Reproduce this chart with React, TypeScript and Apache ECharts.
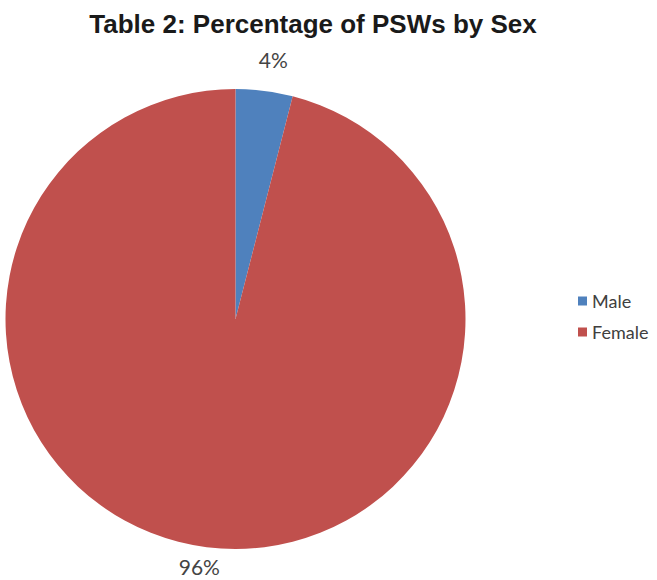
import React, { useEffect, useRef } from "react";
import * as echarts from "echarts";

const categories = ["Male", "Female"];
const values = [4, 96];
const colors = ["#4F81BD", "#C0504D"];
const labelOffsets = [32, 19];

export default function App() {
  const ref = useRef<HTMLDivElement>(null);
  useEffect(() => {
    if (!ref.current) return;
    const chart = echarts.init(ref.current, null, { renderer: "svg" });
    chart.setOption({
      animation: false,
      backgroundColor: "#ffffff",
      title: {
        text: "Table 2: Percentage of PSWs by Sex",
        left: 308,
        textAlign: "center",
        top: 6,
        textStyle: {
          fontFamily: "Liberation Sans",
          fontWeight: "bold",
          fontSize: 26,
          color: "#1a1a1a",
        },
      },
      legend: {
        orient: "vertical",
        left: 573,
        top: 287,
        itemWidth: 9,
        itemHeight: 9,
        itemGap: 13,
        icon: "rect",
        textStyle: { fontFamily: "Lato", fontSize: 18, color: "#404040" },
        data: categories,
      },
      series: [
        {
          type: "pie",
          center: [235.5, 319],
          radius: 230,
          startAngle: 90,
          clockwise: true,
          avoidLabelOverlap: false,
          data: categories.map((c, i) => ({
            name: c,
            value: values[i],
            itemStyle: { color: colors[i] },
            labelLine: { show: false, length: labelOffsets[i], length2: 0 },
          })),
          label: {
            show: true,
            position: "outside",
            formatter: "{c}%",
            fontFamily: "Lato",
            fontSize: 21,
            color: "#444444",
          },
          labelLayout: () => ({ align: "center", verticalAlign: "middle" }),
          emphasis: { disabled: true },
        },
      ],
    });
    return () => chart.dispose();
  }, []);
  return (
    <div
      ref={ref}
      style={{ position: "fixed", left: 0, top: 0, width: 657, height: 580 }}
    />
  );
}
